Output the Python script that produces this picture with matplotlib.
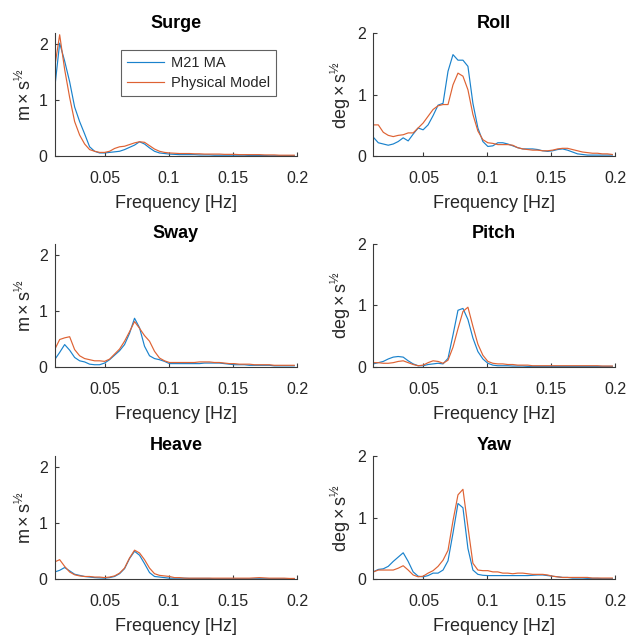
import matplotlib
matplotlib.use("Agg")
import matplotlib.pyplot as plt

plt.rcParams['font.family'] = ['Liberation Sans', 'DejaVu Sans']
plt.rcParams['mathtext.fontset'] = 'custom'
plt.rcParams['mathtext.rm'] = 'Liberation Sans'
plt.rcParams['mathtext.it'] = 'Liberation Sans:italic'
plt.rcParams['mathtext.bf'] = 'Liberation Sans:bold'

# Frequency bins [Hz]
FREQ = [0.0107, 0.0146, 0.0185, 0.0224, 0.0263, 0.0302, 0.0341, 0.0380, 0.0419, 0.0458,
        0.0497, 0.0536, 0.0575, 0.0614, 0.0653, 0.0692, 0.0731, 0.0770, 0.0809, 0.0848,
        0.0887, 0.0926, 0.0965, 0.1004, 0.1043, 0.1082, 0.1121, 0.1160, 0.1199, 0.1238,
        0.1277, 0.1316, 0.1355, 0.1394, 0.1433, 0.1472, 0.1511, 0.1550, 0.1589, 0.1628,
        0.1667, 0.1706, 0.1745, 0.1784, 0.1823, 0.1862, 0.1901, 0.1940, 0.1979]

# Amplitude spectra: numerical model (M21 MA) and physical model
surge_m21 = [1.21, 2.02, 1.70, 1.33, 0.88, 0.62, 0.40, 0.17, 0.09, 0.06,
             0.06, 0.07, 0.08, 0.09, 0.12, 0.16, 0.20, 0.26, 0.22, 0.15,
             0.09, 0.06, 0.05, 0.04, 0.035, 0.03, 0.03, 0.03, 0.03, 0.025,
             0.025, 0.025, 0.02, 0.02, 0.02, 0.02, 0.02, 0.02, 0.02, 0.015,
             0.015, 0.015, 0.015, 0.01, 0.01, 0.01, 0.01, 0.01, 0.01]
surge_phys = [1.59, 2.17, 1.55, 1.05, 0.62, 0.38, 0.22, 0.12, 0.09, 0.07,
              0.07, 0.09, 0.14, 0.17, 0.18, 0.21, 0.24, 0.26, 0.25, 0.19,
              0.13, 0.09, 0.07, 0.06, 0.055, 0.05, 0.05, 0.05, 0.045, 0.045,
              0.04, 0.04, 0.04, 0.04, 0.035, 0.035, 0.035, 0.03, 0.03, 0.03,
              0.03, 0.03, 0.025, 0.025, 0.025, 0.02, 0.02, 0.02, 0.02]

roll_m21 = [0.31, 0.22, 0.20, 0.18, 0.20, 0.24, 0.30, 0.25, 0.36, 0.46,
            0.43, 0.51, 0.66, 0.83, 0.86, 1.38, 1.65, 1.56, 1.56, 1.46,
            0.86, 0.46, 0.24, 0.16, 0.17, 0.22, 0.22, 0.20, 0.17, 0.14,
            0.12, 0.12, 0.12, 0.11, 0.09, 0.08, 0.09, 0.11, 0.12, 0.10,
            0.07, 0.04, 0.03, 0.02, 0.02, 0.02, 0.02, 0.02, 0.02]
roll_phys = [0.51, 0.51, 0.39, 0.34, 0.32, 0.34, 0.35, 0.38, 0.38, 0.46,
             0.54, 0.65, 0.76, 0.82, 0.84, 0.84, 1.16, 1.35, 1.30, 1.08,
             0.68, 0.41, 0.27, 0.22, 0.21, 0.19, 0.19, 0.19, 0.18, 0.14,
             0.12, 0.11, 0.10, 0.10, 0.09, 0.09, 0.10, 0.12, 0.13, 0.13,
             0.11, 0.09, 0.07, 0.06, 0.05, 0.05, 0.04, 0.04, 0.03]

sway_m21 = [0.13, 0.26, 0.40, 0.30, 0.17, 0.11, 0.09, 0.05, 0.04, 0.04,
            0.07, 0.13, 0.21, 0.29, 0.40, 0.60, 0.87, 0.70, 0.37, 0.20,
            0.15, 0.13, 0.10, 0.06, 0.06, 0.06, 0.06, 0.06, 0.06, 0.06,
            0.07, 0.07, 0.07, 0.07, 0.06, 0.05, 0.04, 0.04, 0.04, 0.03,
            0.03, 0.03, 0.03, 0.03, 0.02, 0.02, 0.02, 0.02, 0.02]
sway_phys = [0.31, 0.49, 0.52, 0.54, 0.31, 0.20, 0.15, 0.13, 0.11, 0.11,
             0.10, 0.14, 0.23, 0.32, 0.46, 0.63, 0.81, 0.69, 0.56, 0.46,
             0.28, 0.16, 0.11, 0.08, 0.08, 0.08, 0.08, 0.08, 0.08, 0.09,
             0.09, 0.09, 0.08, 0.08, 0.07, 0.06, 0.06, 0.05, 0.05, 0.05,
             0.04, 0.04, 0.04, 0.04, 0.03, 0.03, 0.03, 0.03, 0.03]

pitch_m21 = [0.05, 0.07, 0.09, 0.13, 0.16, 0.17, 0.16, 0.10, 0.05, 0.02,
             0.02, 0.04, 0.05, 0.06, 0.05, 0.14, 0.52, 0.92, 0.95, 0.77,
             0.47, 0.25, 0.13, 0.06, 0.03, 0.02, 0.02, 0.02, 0.015, 0.015,
             0.015, 0.01, 0.01, 0.01, 0.01, 0.01, 0.01, 0.01, 0.01, 0.01,
             0.01, 0.01, 0.01, 0.01, 0.01, 0.01, 0.01, 0.01, 0.01]
pitch_phys = [0.07, 0.07, 0.06, 0.06, 0.07, 0.09, 0.10, 0.07, 0.04, 0.02,
              0.03, 0.07, 0.10, 0.09, 0.06, 0.11, 0.32, 0.62, 0.90, 0.97,
              0.66, 0.37, 0.19, 0.09, 0.06, 0.05, 0.05, 0.04, 0.04, 0.03,
              0.03, 0.03, 0.02, 0.02, 0.02, 0.02, 0.02, 0.02, 0.02, 0.02,
              0.02, 0.02, 0.02, 0.02, 0.02, 0.02, 0.015, 0.015, 0.015]

heave_m21 = [0.13, 0.16, 0.21, 0.15, 0.09, 0.07, 0.05, 0.04, 0.03, 0.025,
             0.02, 0.03, 0.05, 0.10, 0.19, 0.37, 0.50, 0.43, 0.28, 0.12,
             0.05, 0.04, 0.03, 0.02, 0.02, 0.02, 0.02, 0.015, 0.015, 0.015,
             0.015, 0.015, 0.01, 0.01, 0.01, 0.01, 0.01, 0.01, 0.01, 0.01,
             0.01, 0.01, 0.01, 0.01, 0.01, 0.01, 0.01, 0.01, 0.01]
heave_phys = [0.31, 0.35, 0.23, 0.13, 0.08, 0.06, 0.05, 0.05, 0.04, 0.04,
              0.03, 0.04, 0.06, 0.11, 0.20, 0.38, 0.52, 0.47, 0.35, 0.20,
              0.10, 0.07, 0.06, 0.05, 0.03, 0.03, 0.02, 0.02, 0.02, 0.02,
              0.02, 0.02, 0.02, 0.02, 0.02, 0.02, 0.02, 0.02, 0.02, 0.02,
              0.025, 0.03, 0.025, 0.02, 0.02, 0.02, 0.02, 0.015, 0.015]

yaw_m21 = [0.12, 0.16, 0.17, 0.21, 0.29, 0.36, 0.43, 0.29, 0.12, 0.05,
           0.04, 0.06, 0.10, 0.10, 0.15, 0.30, 0.75, 1.23, 1.16, 0.50,
           0.15, 0.08, 0.065, 0.06, 0.06, 0.06, 0.06, 0.06, 0.06, 0.06,
           0.06, 0.06, 0.065, 0.07, 0.07, 0.06, 0.05, 0.04, 0.03, 0.03,
           0.02, 0.02, 0.02, 0.015, 0.015, 0.015, 0.01, 0.01, 0.01]
yaw_phys = [0.12, 0.15, 0.15, 0.15, 0.15, 0.18, 0.22, 0.15, 0.07, 0.04,
            0.05, 0.10, 0.14, 0.21, 0.31, 0.47, 0.95, 1.37, 1.46, 0.85,
            0.26, 0.15, 0.14, 0.14, 0.12, 0.12, 0.10, 0.10, 0.09, 0.10,
            0.10, 0.09, 0.08, 0.08, 0.08, 0.07, 0.05, 0.04, 0.03, 0.03,
            0.03, 0.03, 0.03, 0.03, 0.02, 0.02, 0.02, 0.02, 0.02]

X_TICKS = [0.05, 0.1, 0.15, 0.2]
X_TICK_LABELS = ["0.05", "0.1", "0.15", "0.2"]
LEGEND_LABELS = ["M21 MA", "Physical Model"]

BLUE = "#1a82cc"
ORANGE = "#de6233"
AXIS_GREY = "#3a3a3a"

LIN_UNIT = r"$\mathregular{m \times s^{½}}$"
ANG_UNIT = r"$\mathregular{deg \times s^{½}}$"

panels = [
    ("Surge", surge_m21, surge_phys, LIN_UNIT, 2.2, (0, 0)),
    ("Roll", roll_m21, roll_phys, ANG_UNIT, 2.0, (0, 1)),
    ("Sway", sway_m21, sway_phys, LIN_UNIT, 2.2, (1, 0)),
    ("Pitch", pitch_m21, pitch_phys, ANG_UNIT, 2.0, (1, 1)),
    ("Heave", heave_m21, heave_phys, LIN_UNIT, 2.2, (2, 0)),
    ("Yaw", yaw_m21, yaw_phys, ANG_UNIT, 2.0, (2, 1)),
]

fig = plt.figure(figsize=(6.27, 6.37), dpi=100)

col_x = [0.0872, 0.5954]
col_w = [0.3864, 0.3855]
row_y = [0.7546, 0.4239, 0.0906]
row_h = 0.1935

for title, m21, phys, unit, ytop, (r, c) in panels:
    ax = fig.add_axes([col_x[c], row_y[r], col_w[c], row_h])
    l1, = ax.plot(FREQ, m21, color=BLUE, lw=0.85)
    l2, = ax.plot(FREQ, phys, color=ORANGE, lw=0.85)
    ax.set_xlim(FREQ[0], 0.2)
    ax.set_ylim(0, ytop)
    ax.set_xticks(X_TICKS)
    ax.set_xticklabels(X_TICK_LABELS)
    ax.set_yticks([0, 1, 2])
    ax.set_yticklabels(["0", "1", "2"])
    for side in ("top", "right"):
        ax.spines[side].set_visible(False)
    for side in ("left", "bottom"):
        ax.spines[side].set_color(AXIS_GREY)
        ax.spines[side].set_linewidth(0.8)
    ax.tick_params(axis="both", direction="in", length=3, width=0.8,
                   color=AXIS_GREY, labelcolor="#262626", labelsize=11.5)
    ax.tick_params(axis="x", pad=10.5)
    ax.tick_params(axis="y", pad=5)
    ax.set_title(title, fontsize=13, fontweight="bold", color="black", pad=4)
    ax.set_xlabel("Frequency [Hz]", fontsize=13, color="#262626", labelpad=6.5)
    ax.set_ylabel(unit, fontsize=13, color="#262626", labelpad=3)
    if title == "Surge":
        leg = ax.legend([l1, l2], LEGEND_LABELS, loc="upper right",
                        bbox_to_anchor=(0.913, 0.862), fontsize=10.5,
                        frameon=True, fancybox=False, borderaxespad=0,
                        handlelength=2.5, handletextpad=0.5, labelspacing=0.4,
                        borderpad=0.4)
        leg.get_frame().set_edgecolor(AXIS_GREY)
        leg.get_frame().set_linewidth(0.8)
        for t in leg.get_texts():
            t.set_color("#262626")

fig.savefig("out.png", dpi=100)
